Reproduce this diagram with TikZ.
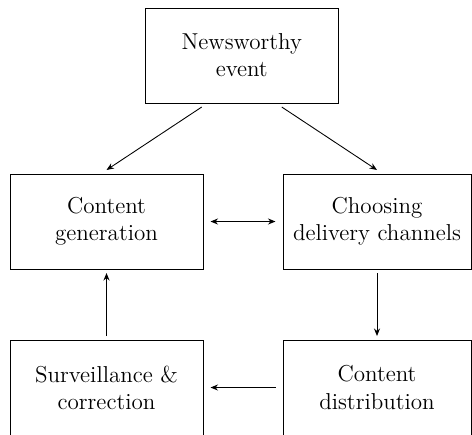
\documentclass[tikz,border=0pt]{standalone}
\usetikzlibrary{positioning, arrows.meta, calc}
\tikzset{
  nw/.style={line width=0.5pt, font=\fontsize{13.1}{15.4}\selectfont},
  box/.style={draw, minimum width=3.86cm, minimum height=1.9cm, align=center, outer xsep=0.15cm, outer ysep=0.08cm},
  wbox/.style={box, minimum width=3.76cm},
  arr/.style={-{Stealth[length=1.5mm, width=1.2mm]}},
  both/.style={{Stealth[length=1.5mm, width=1.2mm]}-{Stealth[length=1.5mm, width=1.2mm]}},
}

\begin{document}
\begin{tikzpicture}[
  nw,
]
\useasboundingbox (0,0) rectangle (9.44,-8.68);

\node[box] (gen) at (2.13,-4.43) {Content\\generation};
\node[wbox, right=1.3cm of gen] (chan) {Choosing\\delivery channels};
\coordinate (mid) at ($(gen.north)!0.5!(chan.north)$);
\node[box, above=1.26cm of mid] (news) {Newsworthy\\event};
\node[box, below=1.26cm of gen] (surv) {Surveillance \&\\correction};
\node[wbox, below=1.26cm of chan] (dist) {Content\\distribution};

\draw[arr] ([xshift=-0.8cm]news.south) -- (gen.north);
\draw[arr] ([xshift=0.8cm]news.south) -- (chan.north);
\draw[both] (gen) -- (chan);
\draw[arr] (chan) -- (dist);
\draw[arr] (dist) -- (surv);
\draw[arr] (surv) -- (gen);
\end{tikzpicture}
\end{document}
